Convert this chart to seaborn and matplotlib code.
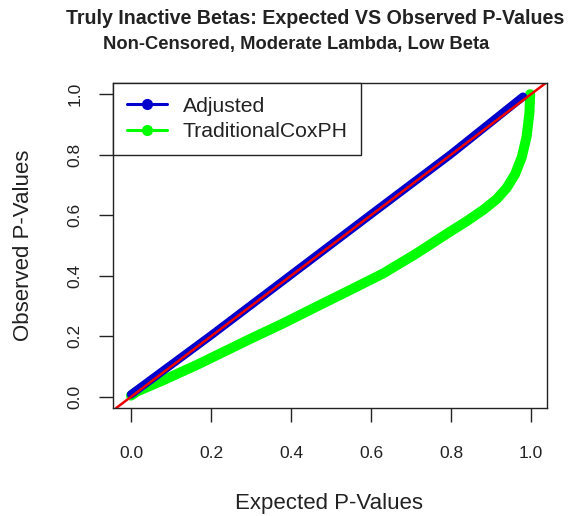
import matplotlib
matplotlib.use("Agg")
import matplotlib.pyplot as plt
from matplotlib.lines import Line2D
import seaborn as sns
import pandas as pd

# ---- data ----
expected_adj = [0.0, 0.2, 0.4, 0.6, 0.8, 0.98]
observed_adj = [0.008, 0.203, 0.403, 0.603, 0.802, 0.992]

expected_trad = [0.0, 0.014, 0.081, 0.164, 0.248, 0.2975, 0.381, 0.464, 0.548, 0.631,
                 0.714, 0.798, 0.839, 0.881, 0.914, 0.939, 0.96, 0.977, 0.989, 0.996, 0.998]
observed_trad = [0.004, 0.017, 0.055, 0.105, 0.159, 0.191, 0.243, 0.298, 0.353, 0.408,
                 0.474, 0.546, 0.58, 0.618, 0.653, 0.69, 0.735, 0.792, 0.86, 0.937, 1.0]

series_names = ["Adjusted", "TraditionalCoxPH"]
tick_values = [0.0, 0.2, 0.4, 0.6, 0.8, 1.0]
tick_labels = ["0.0", "0.2", "0.4", "0.6", "0.8", "1.0"]
title_line1 = "Truly Inactive Betas: Expected VS Observed P-Values"
title_line2 = "Non-Censored, Moderate Lambda, Low Beta"
xlabel = "Expected P-Values"
ylabel = "Observed P-Values"

sns.set_style("ticks")
plt.rcParams["font.family"] = ["Liberation Sans", "DejaVu Sans"]

W, H = 578, 516
fig = plt.figure(figsize=(W / 100, H / 100), dpi=100)
ax = fig.add_axes([113 / W, (H - 408) / H, 434 / W, 325 / H])

df_adj = pd.DataFrame({"x": expected_adj, "y": observed_adj})
df_trad = pd.DataFrame({"x": expected_trad, "y": observed_trad})

sns.lineplot(data=df_trad, x="x", y="y", color="#00FF00", linewidth=7.2,
             sort=False, ax=ax, solid_capstyle="round", solid_joinstyle="round")
sns.lineplot(data=df_adj, x="x", y="y", color="#0000CC", linewidth=6.0,
             sort=False, ax=ax, solid_capstyle="round")
ax.axline((0, 0), (1, 1), color="#EE0000", linewidth=1.8)

ax.set_xlim(-0.045, 1.04)
ax.set_ylim(-0.037, 1.037)
ax.set_xticks(tick_values)
ax.set_xticklabels(tick_labels)
ax.set_yticks(tick_values)
ax.set_yticklabels(tick_labels, rotation=90, va="center")
ax.tick_params(axis="both", direction="out", length=10, width=1.0,
               color="#222222", labelsize=12.5, labelcolor="#222222",
               bottom=True, left=True)
ax.tick_params(axis="x", pad=17)
ax.tick_params(axis="y", pad=12)
ax.set_xlabel("")
ax.set_ylabel("")
for s in ax.spines.values():
    s.set_visible(True)
    s.set_color("#222222")
    s.set_linewidth(1.0)

handles = [
    Line2D([0], [0], color="#0000CC", lw=2.2, marker="o", markersize=7),
    Line2D([0], [0], color="#00FF00", lw=2.2, marker="o", markersize=7),
]
leg = ax.legend(handles, series_names, loc="upper left", bbox_to_anchor=(0, 1),
                borderaxespad=0, frameon=True, fancybox=False, fontsize=15.2,
                handlelength=1.9, handletextpad=0.75, borderpad=0.65,
                labelspacing=0.3, labelcolor="#222222")
leg.get_frame().set_edgecolor("#222222")
leg.get_frame().set_linewidth(1.0)
leg.get_frame().set_alpha(1)

fig.text(66 / W, 1 - 19 / H, title_line1, ha="left", va="center",
         fontsize=14.1, fontweight="bold", color="#222222")
fig.text(103 / W, 1 - 44 / H, title_line2, ha="left", va="center",
         fontsize=13.2, fontweight="bold", color="#222222")
fig.text(329 / W, 1 - 503 / H, xlabel, ha="center", va="center",
         fontsize=16, color="#222222")
fig.text(24 / W, 1 - 245 / H, ylabel, ha="center", va="center",
         rotation=90, fontsize=16, color="#222222")

fig.savefig("out.png", dpi=100)
